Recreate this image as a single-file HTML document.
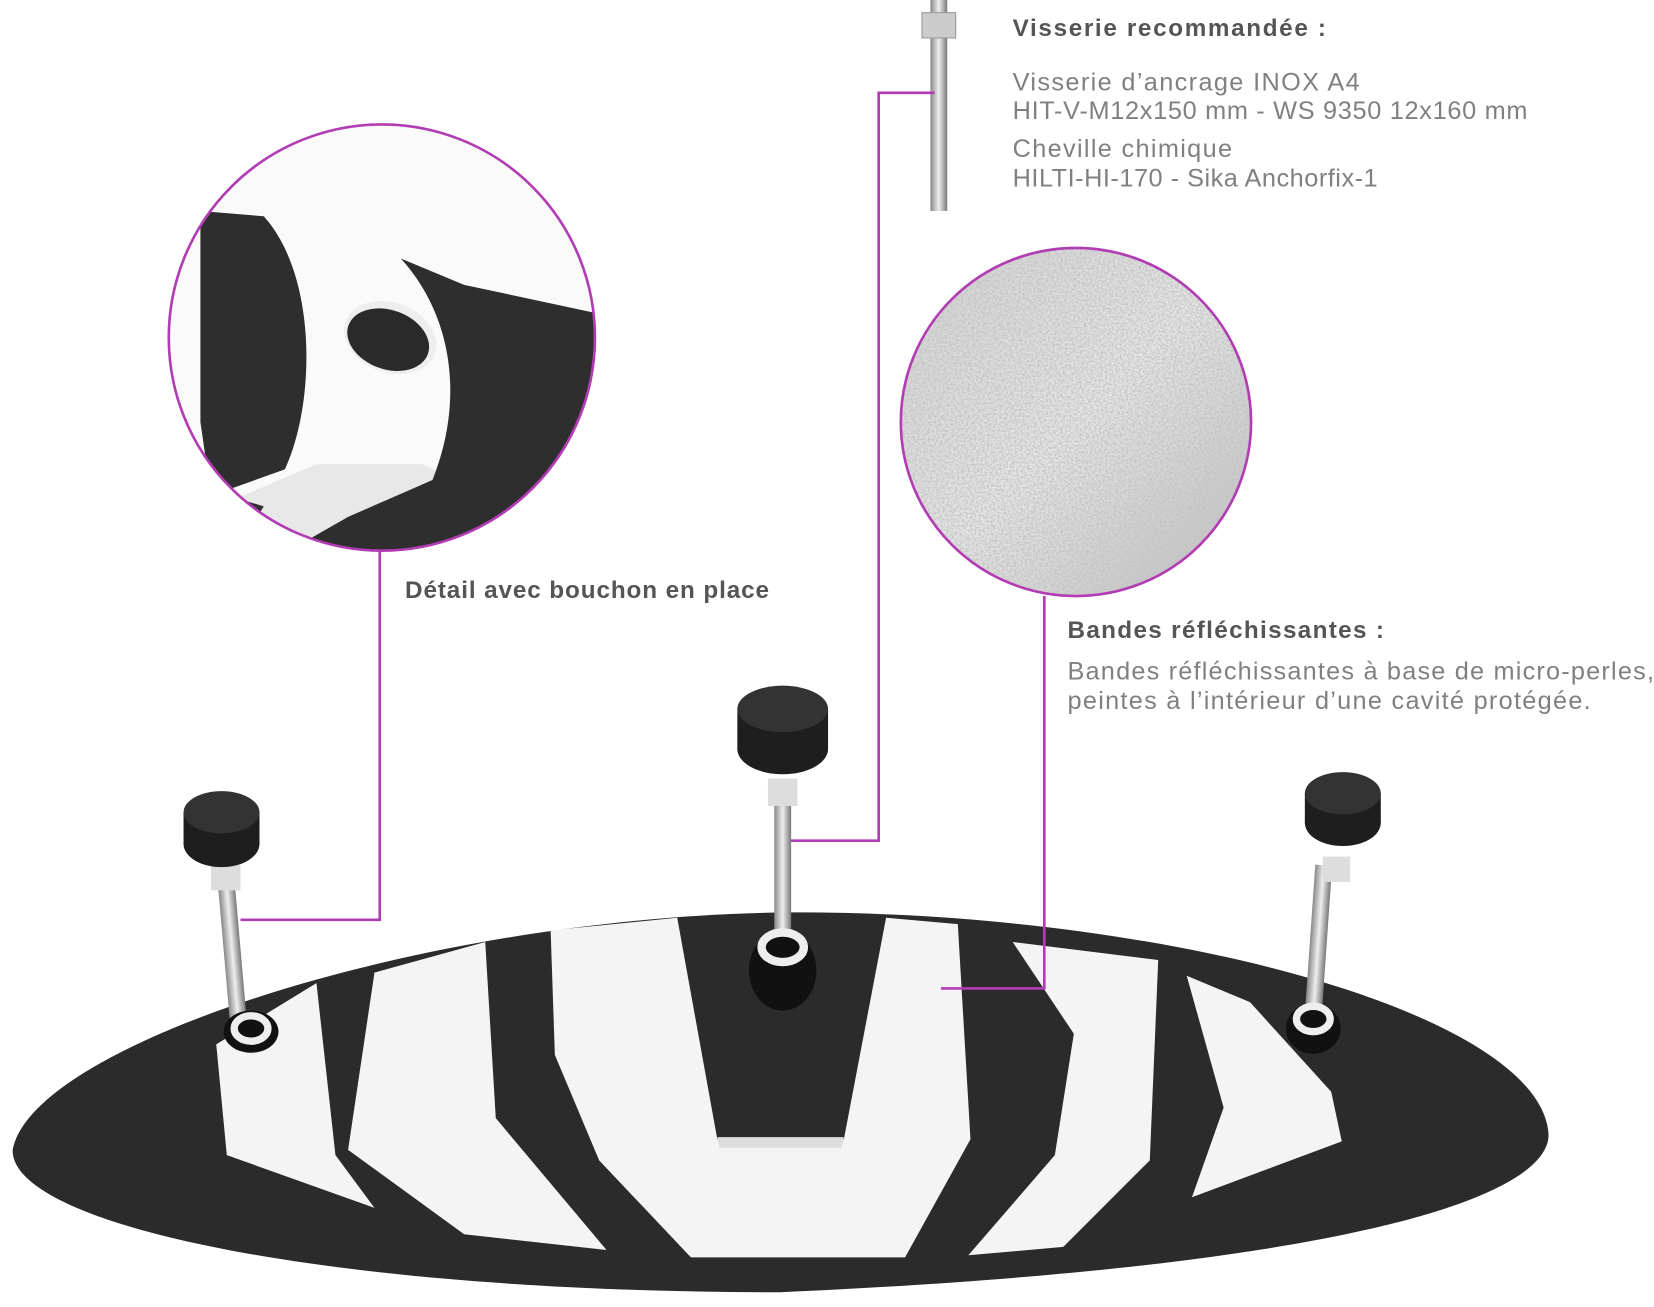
<!DOCTYPE html>
<html><head><meta charset="utf-8"><style>
html,body{margin:0;padding:0;background:#fff;}
svg{display:block}
text{font-family:"Liberation Sans",sans-serif;}
</style></head><body>
<svg width="1654" height="1307" viewBox="0 0 1568 1239" preserveAspectRatio="none" xmlns="http://www.w3.org/2000/svg">
<defs>
<clipPath id="c1"><circle cx="362" cy="320" r="202"/></clipPath>
<clipPath id="c2"><ellipse cx="1020" cy="400" rx="166" ry="165"/></clipPath>
<filter id="noise"><feTurbulence type="fractalNoise" baseFrequency="0.5" numOctaves="2" seed="3"/><feColorMatrix type="matrix" values="0 0 0 0 0.55 0 0 0 0 0.55 0 0 0 0 0.55 0 0 0 -2.2 1.5"/></filter>
<linearGradient id="tex" x1="0" y1="0" x2="1" y2="1"><stop offset="0" stop-color="#cfcfcf"/><stop offset="0.5" stop-color="#e8e8e8"/><stop offset="1" stop-color="#b8b8b8"/></linearGradient>
<linearGradient id="rod" x1="0" x2="1"><stop offset="0" stop-color="#888"/><stop offset="0.5" stop-color="#eee"/><stop offset="1" stop-color="#777"/></linearGradient>
</defs>

<!-- left detail circle -->
<g clip-path="url(#c1)">
<rect x="150" y="110" width="430" height="420" fill="#fafafa"/>
<path d="M150,460 L230,470 L300,440 L400,440 L580,520 L150,530 Z" fill="#e8e8e8"/>
<path d="M190,200 L250,205 C300,260 300,380 270,445 L200,470 L190,400 Z" fill="#2e2e2e"/>
<path d="M380,245 L440,270 L580,300 L580,530 L260,530 L330,490 L410,455 C440,380 430,300 380,245 Z" fill="#2e2e2e"/>
<path d="M150,450 L250,480 L220,530 L150,530 Z" fill="#2e2e2e"/>
<ellipse cx="370" cy="320" rx="45" ry="33" fill="#eee" transform="rotate(20 370 320)"/>
<ellipse cx="368" cy="322" rx="40" ry="28" fill="#2a2a2a" transform="rotate(20 368 322)"/>
</g>
<circle cx="362" cy="320" r="202" fill="none" stroke="#b23cb4" stroke-width="2.5"/>

<!-- texture circle -->
<g clip-path="url(#c2)">
<rect x="850" y="230" width="340" height="340" fill="url(#tex)"/>
<rect x="850" y="230" width="340" height="340" filter="url(#noise)"/>
</g>
<ellipse cx="1020" cy="400" rx="166" ry="165" fill="none" stroke="#b23cb4" stroke-width="2.5"/>

<!-- top bolt -->
<rect x="882" y="0" width="16" height="200" fill="url(#rod)"/>
<rect x="874" y="12" width="32" height="24" fill="#ccc" stroke="#999"/>

<!-- text -->
<g fill="#555">
<text x="960" y="34" font-size="23" font-weight="bold" textLength="297">Visserie recommandée :</text>
<text x="384" y="567" font-size="23" font-weight="bold" textLength="345">Détail avec bouchon en place</text>
<text x="1012" y="605" font-size="23" font-weight="bold" textLength="300">Bandes réfléchissantes :</text>
</g>
<g fill="#808080" font-size="24">
<text x="960" y="86" textLength="329">Visserie d’ancrage INOX A4</text>
<text x="960" y="113" textLength="488">HIT-V-M12x150 mm - WS 9350 12x160 mm</text>
<text x="960" y="149" textLength="208">Cheville chimique</text>
<text x="960" y="177" textLength="346">HILTI-HI-170 - Sika Anchorfix-1</text>
<text x="1012" y="644" textLength="556">Bandes réfléchissantes à base de micro-perles,</text>
<text x="1012" y="672" textLength="496">peintes à l’intérieur d’une cavité protégée.</text>
</g>

<!-- body -->
<path d="M12,1090 C30,990 400,870 740,865 C1100,862 1460,960 1468,1075 C1470,1130 1300,1200 740,1225 C300,1225 10,1160 12,1090 Z" fill="#2b2b2b"/>
<g fill="#f4f4f4">
<path d="M205,990 L300,932 L318,1095 L355,1145 L215,1095 Z"/>
<path d="M355,922 L460,893 L470,1060 L575,1185 L440,1170 L330,1090 Z"/>
<path d="M522,882 L642,870 L680,1080 L800,1080 L840,870 L908,876 L920,1080 L858,1192 L655,1192 L568,1100 L526,1000 Z"/>
<path d="M960,893 L1098,910 L1090,1100 L1008,1182 L918,1190 L1000,1095 L1018,980 Z"/>
<path d="M1125,925 L1185,950 L1262,1035 L1272,1082 L1130,1135 L1160,1050 Z"/>
</g>
<path d="M680,1078 L800,1078 L798,1088 L682,1088 Z" fill="#ddd"/>

<!-- connectors -->
<g fill="none" stroke="#b23cb4" stroke-width="2.5">
<polyline points="360,522 360,872 228,872"/>
<polyline points="886,88 833,88 833,797 748,797"/>
<polyline points="990,565 990,937 892,937"/>
</g>

<!-- pins -->
<g>
<rect x="212" y="830" width="16" height="145" fill="url(#rod)" transform="rotate(-5 220 900)"/>
<ellipse cx="238" cy="978" rx="26" ry="20" fill="#111"/><ellipse cx="238" cy="975" rx="16" ry="12" fill="none" stroke="#eee" stroke-width="7"/>
<rect x="200" y="820" width="28" height="24" fill="#ddd"/>
<ellipse cx="210" cy="800" rx="36" ry="22" fill="#1e1e1e"/><rect x="174" y="770" width="72" height="30" fill="#1e1e1e"/><ellipse cx="210" cy="770" rx="36" ry="20" fill="#333"/>

<rect x="734" y="760" width="16" height="135" fill="url(#rod)"/>
<ellipse cx="742" cy="920" rx="32" ry="38" fill="#111"/><ellipse cx="742" cy="898" rx="20" ry="14" fill="none" stroke="#eee" stroke-width="8"/>
<rect x="728" y="738" width="28" height="26" fill="#ddd"/>
<ellipse cx="742" cy="710" rx="43" ry="24" fill="#1e1e1e"/><rect x="699" y="672" width="86" height="38" fill="#1e1e1e"/><ellipse cx="742" cy="672" rx="43" ry="22" fill="#333"/>

<rect x="1242" y="820" width="16" height="145" fill="url(#rod)" transform="rotate(4 1250 890)"/>
<ellipse cx="1245" cy="975" rx="26" ry="24" fill="#111"/><ellipse cx="1245" cy="966" rx="16" ry="12" fill="none" stroke="#eee" stroke-width="7"/>
<rect x="1254" y="812" width="26" height="24" fill="#ddd"/>
<ellipse cx="1273" cy="780" rx="36" ry="22" fill="#1e1e1e"/><rect x="1237" y="752" width="72" height="28" fill="#1e1e1e"/><ellipse cx="1273" cy="752" rx="36" ry="20" fill="#333"/>
</g>
</svg>
</body></html>
